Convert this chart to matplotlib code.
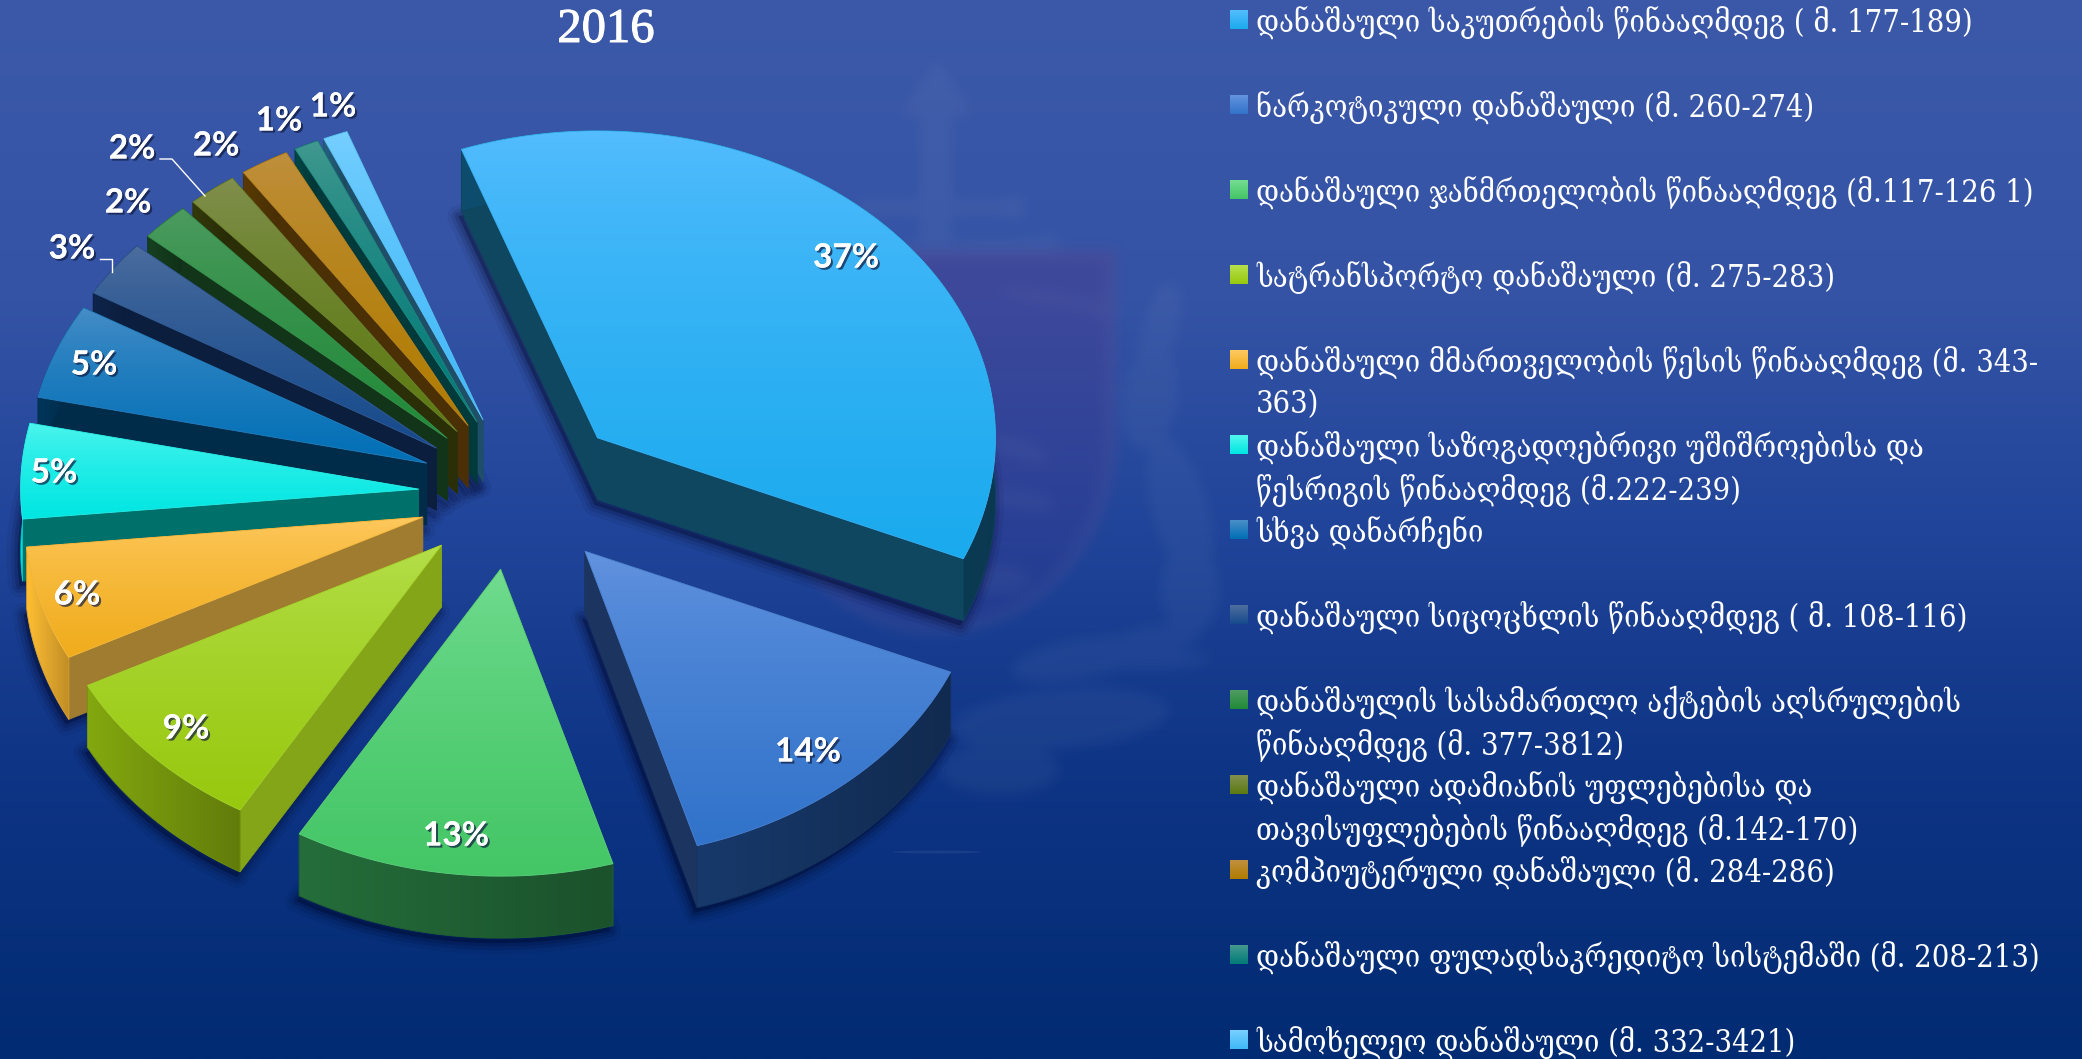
import numpy as np
import matplotlib
matplotlib.use("Agg")
import matplotlib.pyplot as plt
from matplotlib.patches import Polygon, Ellipse
from matplotlib.path import Path
from matplotlib.colors import to_rgb
import matplotlib.patheffects as pe

# ---------- data ----------
title = "2016"
categories = [
    "დანაშაული საკუთრების წინააღმდეგ ( მ. 177-189)",
    "ნარკოტიკული დანაშაული (მ. 260-274)",
    "დანაშაული ჯანმრთელობის წინააღმდეგ (მ.117-126 1)",
    "სატრანსპორტო დანაშაული (მ. 275-283)",
    "დანაშაული მმართველობის წესის წინააღმდეგ (მ. 343-\n363)",
    "დანაშაული საზოგადოებრივი უშიშროებისა და\nწესრიგის წინააღმდეგ (მ.222-239)",
    "სხვა დანარჩენი",
    "დანაშაული სიცოცხლის წინააღმდეგ ( მ. 108-116)",
    "დანაშაულის სასამართლო აქტების აღსრულების\nწინააღმდეგ (მ. 377-3812)",
    "დანაშაული ადამიანის უფლებებისა და\nთავისუფლებების წინააღმდეგ (მ.142-170)",
    "კომპიუტერული დანაშაული (მ. 284-286)",
    "დანაშაული ფულადსაკრედიტო სისტემაში (მ. 208-213)",
    "სამოხელეო დანაშაული (მ. 332-3421)",
]
values = [37, 14, 13, 9, 6, 5, 5, 3, 2, 2, 2, 1, 1]

# ---------- styles ----------
top_light = ["#55bdfe", "#6494e0", "#74dd92", "#b6e04e", "#ffca62", "#52f5ee", "#4a8fc8",
             "#4f6f9f", "#4f9c62", "#829050", "#c09040", "#449a90", "#78d0ff"]
top_dark = ["#1aaaee", "#3173ca", "#44c666", "#98c80e", "#f0ac1c", "#00e6e2", "#006fb6",
            "#164a8c", "#218a38", "#5c7a10", "#b07c00", "#007a78", "#40b8f8"]
wall_side = ["#0f4660", "#1b3560", "#1d5a30", "#85a518", "#a07c30", "#00706a", "#002c4a",
             "#0c1e3e", "#12351a", "#2a2f08", "#4a3004", "#003a3a", "#1f4f68"]
wall_arc = ["#0c3f5a", "#132f58", "#1e5a30", "#6c8a0c", "#d49c2a", "#00bcb8", "#002c4a",
            "#0c1e3e", "#12351a", "#2a2f08", "#4a3004", "#003a3a", "#1f4f68"]
nudge = [(0, 0), (-6, -4), (-7, -6), (-2, -5), (4, 0), (4, 0), (5, -1),
         (2, 2), (2, 2), (2, 2), (2, 2), (2, 2), (2, 2)]

W, H = 2082, 1059
plt.rcParams['font.family'] = ['DejaVu Serif', 'DejaVu Sans']
fig = plt.figure(figsize=(W / 100, H / 100), dpi=100)
ax = fig.add_axes([0, 0, 1, 1])
ax.set_axis_off()

# background gradient
stops_y = np.array([0, 300, 520, 760, 1059]) / H
stops_c = np.array([to_rgb(c) for c in ["#3c59a9", "#3453a5", "#21459a", "#0f3586", "#012b72"]])
yy = np.linspace(0, 1, 512)
bg = np.stack([np.interp(yy, stops_y, stops_c[:, i]) for i in range(3)], axis=1)[:, None, :]
ax.imshow(bg, extent=(0, W, H, 0), aspect='auto', zorder=0)

# faint watermark, blurred: shield, sword, ornaments
gx, gy = np.meshgrid(np.arange(0, W, 2) + 1.0, np.arange(0, H, 2) + 1.0)
pts = np.column_stack([gx.ravel(), gy.ravel()])


def mask_poly(verts):
    return Path(verts).contains_points(pts).reshape(gx.shape).astype(float)


def mask_ell(cx, cy, a, b, ang=0.0):
    t = np.radians(ang)
    u = (gx - cx) * np.cos(t) + (gy - cy) * np.sin(t)
    v = -(gx - cx) * np.sin(t) + (gy - cy) * np.cos(t)
    return ((u / a) ** 2 + (v / b) ** 2 <= 1).astype(float)


def blur(m, n):
    k = np.ones(2 * n + 1) / (2 * n + 1)
    for _ in range(2):
        m = np.apply_along_axis(lambda r: np.convolve(r, k, mode='same'), 0, m)
        m = np.apply_along_axis(lambda r: np.convolve(r, k, mode='same'), 1, m)
    return m


tt = np.radians(np.linspace(0, 180, 60))
shield_pts = np.column_stack([937 + 179 * np.cos(tt), 440 + 195 * np.sin(tt)])
shield_poly = np.vstack([[(1116, 250)], shield_pts, [(758, 250)]])
shield = mask_poly(shield_poly)
shield_inner = mask_poly(np.vstack([[(1104, 262)], np.column_stack([937 + 167 * np.cos(tt), 440 + 183 * np.sin(tt)]), [(770, 262)]]))
ring = shield - shield_inner
tint = blur(shield, 3)
light = np.maximum.reduce([
    ring,
    mask_poly([(921, 115), (900, 115), (937, 57), (974, 115), (952, 115), (952, 260), (921, 260)]),
    mask_poly([(857, 200), (1014, 200), (1014, 216), (857, 216)]),
    mask_poly([(860, 245), (1048, 238), (1048, 250), (860, 262)]),
    mask_ell(1014, 208, 13, 13), mask_ell(1048, 246, 12, 12), mask_ell(1105, 310, 16, 10),
    mask_ell(1055, 300, 55, 6, 10),
    mask_ell(1160, 330, 18, 50, 15), mask_ell(1150, 400, 28, 50, 10), mask_ell(1180, 510, 28, 75, -15),
    mask_ell(1190, 590, 30, 45), mask_ell(1155, 640, 45, 14, -8),
    mask_ell(1080, 660, 70, 20, -10), mask_ell(1060, 720, 110, 30, -5), mask_ell(1000, 770, 60, 26),
    mask_ell(1150, 660, 60, 10), mask_ell(1020, 450, 30, 10, 20), mask_ell(1020, 500, 35, 9, 10),
    mask_ell(1000, 580, 30, 14),
])
light = blur(light, 3)
ov = np.zeros(gx.shape + (4,))
purple = np.array(to_rgb("#5a2a80"))
lt = np.array(to_rgb("#8aa0c0"))
a_t = tint * 0.30 * np.clip(1.2 - gy / 800, 0.3, 1)
a_l = light * 0.09
alpha = 1 - (1 - a_t) * (1 - a_l)
for c in range(3):
    ov[..., c] = (purple[c] * a_t + lt[c] * a_l * (1 - a_t)) / np.maximum(alpha, 1e-4)
ov[..., 3] = alpha
ax.imshow(ov, extent=(0, W, H, 0), aspect='auto', zorder=1)
ax.add_patch(Ellipse((937, 852), 90, 3, fc=(0.8, 0.85, 1, 0.08), ec='none', zorder=1))

# pie geometry, in pixels
cx0, cy0 = 520.5, 494.0
Rx, Ry = 398.0, 307.0
explode = 106.0
thick = 62.0
start_deg = -20.0

vals = np.array(values, float)
edges = start_deg + np.concatenate([[0], np.cumsum(vals / vals.sum() * 360)])


def gpos(a, r=1.0):
    t = np.radians(a)
    return np.array([r * Rx * np.sin(t), -r * Ry * np.cos(t)])


def grad_fill(poly, c1, c2, z, horizontal=False, power=1.0):
    p = Polygon(poly, closed=True, fc='none', ec='none', zorder=z)
    ax.add_patch(p)
    x0, y0 = poly.min(axis=0)
    x1, y1 = poly.max(axis=0)
    t = np.linspace(0, 1, 256) ** power
    a, b = np.array(to_rgb(c1)), np.array(to_rgb(c2))
    g = (a[None, :] * (1 - t[:, None]) + b[None, :] * t[:, None])
    g = g[None, :, :] if horizontal else g[:, None, :]
    im = ax.imshow(g, extent=(x0, x1, y1, y0), aspect='auto', zorder=z)
    im.set_clip_path(p)
    ax.add_patch(Polygon(poly, closed=True, fc='none', ec=tuple((a + b) / 2), lw=0.6, zorder=z))


def lighten(c, f):
    return tuple(np.clip(np.array(to_rgb(c)) * f, 0, 1))


draw_order = [12, 11, 10, 9, 8, 7, 6, 0, 5, 4, 3, 2, 1]
z = 10.0
for i in draw_order:
    a0, a1 = edges[i], edges[i + 1]
    mid = (a0 + a1) / 2
    tip = np.array([cx0, cy0]) + gpos(mid, explode / Rx) + np.array(nudge[i], float)
    arc = np.array([tip + gpos(a) for a in np.linspace(a0, a1, 120)])
    top = np.vstack([tip, arc])
    down = np.array([0, thick])
    # drop shadow
    for lw, al in [(16, 0.06), (10, 0.10), (5, 0.14)]:
        ax.add_patch(Polygon(np.vstack([tip + down, arc + down]) + np.array([-3, 5]), closed=True,
                             fc=(0, 0, 0.1, al), ec=(0, 0, 0.1, al), lw=lw, joinstyle='round', zorder=z))
    z += 1
    # radial walls
    for e in (arc[0], arc[-1]):
        wall = np.array([tip, e, e + down, tip + down])
        ax.add_patch(Polygon(wall, closed=True, fc=wall_side[i], ec=wall_side[i], lw=0.5, zorder=z))
        z += 1
    # outer wall
    strip = np.vstack([arc, (arc + down)[::-1]])
    grad_fill(strip, lighten(wall_arc[i], 1.22), lighten(wall_arc[i], 0.9), z, horizontal=True)
    z += 1
    # top face
    grad_fill(top, top_light[i], top_dark[i], z, power=0.7)
    z += 1

# percentage labels
label_xy = [(846, 258), (808, 752), (456, 836), (186, 729), (77, 595), (54, 473), (94, 365),
            (72, 249), (128, 203), (132, 149), (216, 146), (279, 121), (333, 107)]
for v, (x, y) in zip(values, label_xy):
    ax.text(x, y, f"{v}%", family=['Lato', 'DejaVu Sans'], weight='bold', fontsize=24, color='white',
            ha='center', va='center', zorder=500,
            path_effects=[pe.withSimplePatchShadow(offset=(1.5, -1.5), shadow_rgbFace='#101a40', alpha=0.7), pe.Normal()])

# leader lines
ax.plot([160, 172, 205], [159, 159, 196], color='white', lw=1, zorder=499)
ax.plot([100, 112, 112], [259, 259, 272], color='white', lw=1, zorder=499)

# title
ax.text(606, 30, title, family=['Liberation Serif'], fontsize=35, color='white',
        ha='center', va='center', zorder=500,
        path_effects=[pe.withStroke(linewidth=0.7, foreground='white')])

# legend
row0, step, line_gap = 20.0, 85.0, 42.5
for i, lab in enumerate(categories):
    y = row0 + step * i
    t = np.linspace(0, 1, 64)
    a, b = np.array(to_rgb(top_light[i])), np.array(to_rgb(top_dark[i]))
    ax.imshow((a[None, :] * (1 - t[:, None]) + b[None, :] * t[:, None])[:, None, :],
              extent=(1230, 1248, y + 9, y - 10), aspect='auto', zorder=501)
    for j, line in enumerate(lab.split("\n")):
        ax.text(1256, y - 1 + j * line_gap, line, color='white', fontsize=22.1,
                family=['DejaVu Serif', 'DejaVu Sans'], stretch='condensed',
                ha='left', va='center_baseline', zorder=501)

ax.set_xlim(0, W)
ax.set_ylim(H, 0)
fig.savefig("out.png", dpi=100)
